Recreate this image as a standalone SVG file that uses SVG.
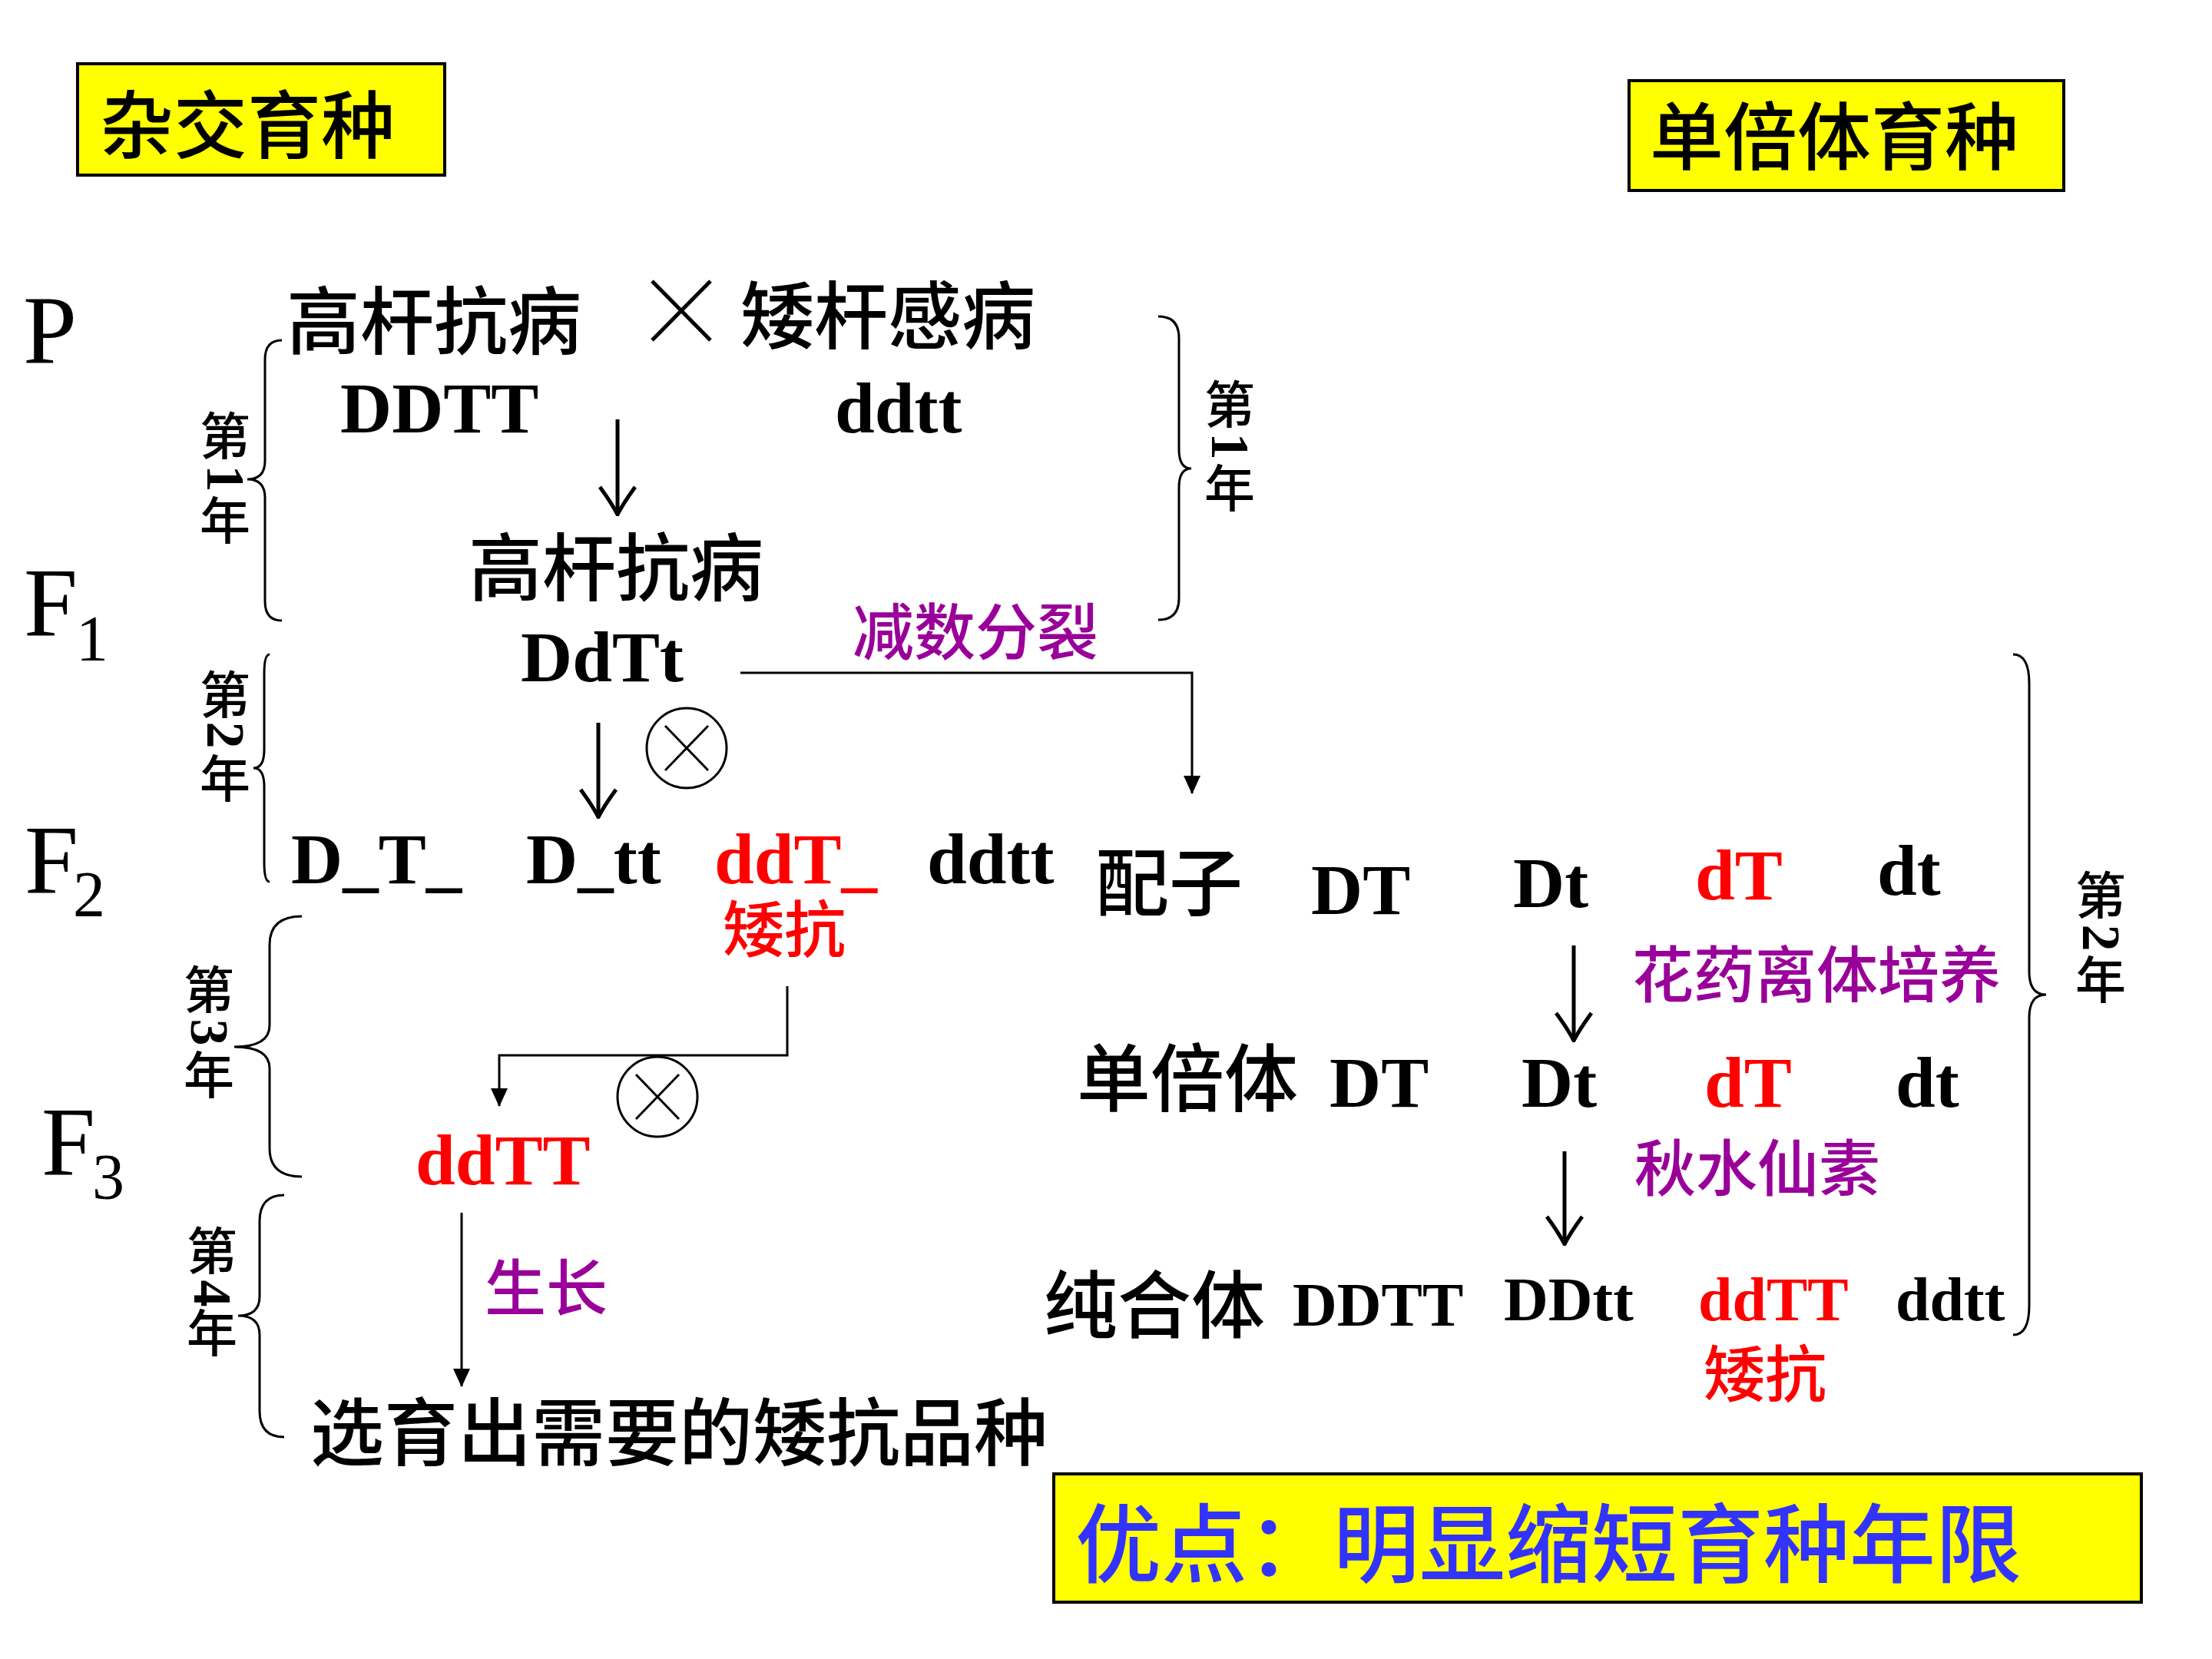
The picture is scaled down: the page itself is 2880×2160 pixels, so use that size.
<svg xmlns="http://www.w3.org/2000/svg" width="2880" height="2160" viewBox="0 0 2880 2160">
<style>
.cn{font-family:"Noto Sans CJK SC","Noto Sans",sans-serif;font-weight:500;fill:#000}
.c96{font-size:96px}
.c80{font-size:80px}
.c66{font-size:66px}
.g{font-family:"Liberation Serif","Times New Roman",serif;font-weight:bold;fill:#000}
.g93{font-size:93px}
.g80{font-size:80px}
.f{font-family:"Liberation Serif","Times New Roman",serif;fill:#000}
.red{fill:#ff0000}
.pur{fill:#990099}
.box{fill:#ffff00;stroke:#000;stroke-width:4}
.brace{fill:none;stroke:#000;stroke-width:3}
.arr{fill:none;stroke:#000;stroke-width:5}
.con{fill:none;stroke:#000;stroke-width:3}
.self{fill:none;stroke:#000;stroke-width:3}
</style>
<defs>
<marker id="open" viewBox="0 0 40 50" refX="38" refY="25" markerWidth="40" markerHeight="50" markerUnits="userSpaceOnUse" orient="auto">
<path d="M2,2 Q24,18 38,25 Q24,32 2,48" fill="none" stroke="#000" stroke-width="5"/>
</marker>
<marker id="tri" viewBox="0 0 24 24" refX="23" refY="12" markerWidth="24" markerHeight="24" markerUnits="userSpaceOnUse" orient="auto">
<path d="M0,1 L24,12 L0,23 Z" fill="#000"/>
</marker>
<g id="otimes">
<circle cx="0" cy="0" r="52" class="self"/>
<line x1="-28" y1="-29" x2="28" y2="29" class="self"/>
<line x1="28" y1="-29" x2="-28" y2="29" class="self"/>
</g>
</defs>

<g id="title-hybrid">
<rect x="101" y="83" width="478" height="145" class="box"/>
<text x="130" y="198" class="cn c96">杂交育种</text>
</g>
<g id="title-haploid">
<rect x="2121" y="105" width="566" height="143" class="box"/>
<text x="2148" y="213" class="cn c96">单倍体育种</text>
</g>
<g id="advantage">
<rect x="1372" y="1919" width="1416" height="167" class="box"/>
<text x="1400" y="2052" class="cn" style="font-size:112px;fill:#3333ff">优点：明显缩短育种年限</text>
</g>

<g id="gen-labels">
<text x="30" y="473" class="f" font-size="126">P</text>
<text x="31" y="827" class="f" font-size="126">F</text><text x="99" y="860" class="f" font-size="84">1</text>
<text x="32" y="1162" class="f" font-size="126">F</text><text x="95" y="1193" class="f" font-size="84">2</text>
<text x="54" y="1529" class="f" font-size="126">F</text><text x="120" y="1561" class="f" font-size="84">3</text>
</g>

<g id="parents">
<text x="373" y="453" class="cn c96">高杆抗病</text>
<g id="cross-sign">
<line x1="849" y1="366" x2="925" y2="443" stroke="#000" stroke-width="5"/>
<line x1="925" y1="366" x2="849" y2="443" stroke="#000" stroke-width="5"/>
</g>
<text x="964" y="446" class="cn c96">矮杆感病</text>
<text x="443" y="563" class="g g93">DDTT</text>
<text x="1087" y="563" class="g g93">ddtt</text>
</g>

<g id="f1">
<text x="610" y="774" class="cn c96">高杆抗病</text>
<text x="678" y="887" class="g g93">DdTt</text>
</g>

<g id="meiosis-label"><text x="1110" y="852" class="cn c80 pur">减数分裂</text></g>

<g id="self1"><use href="#otimes" x="894" y="974"/></g>

<g id="f2">
<text x="379" y="1150" class="g g93">D_T_</text>
<text x="685" y="1150" class="g g93">D_tt</text>
<text x="930" y="1150" class="g g93 red">ddT_</text>
<text x="1207" y="1150" class="g g93">ddtt</text>
<text x="941" y="1239" class="cn c80 red">矮抗</text>
</g>

<g id="self2"><use href="#otimes" x="856" y="1428"/></g>

<g id="f3">
<text x="541" y="1542" class="g g93 red">ddTT</text>
</g>
<g id="grow-label"><text x="631" y="1706" class="cn c80 pur">生长</text></g>
<g id="result"><text x="404" y="1900" class="cn c96">选育出需要的矮抗品种</text></g>

<g id="gametes">
<text x="1426" y="1184" class="cn c96">配子</text>
<text x="1707" y="1190" class="g g93">DT</text>
<text x="1970" y="1181" class="g g93">Dt</text>
<text x="2207" y="1171" class="g g93 red">dT</text>
<text x="2444" y="1165" class="g g93">dt</text>
</g>
<g id="anther-label"><text x="2125" y="1298" class="cn c80 pur">花药离体培养</text></g>
<g id="haploids">
<text x="1402" y="1439" class="cn c96">单倍体</text>
<text x="1731" y="1441" class="g g93">DT</text>
<text x="1981" y="1441" class="g g93">Dt</text>
<text x="2219" y="1441" class="g g93 red">dT</text>
<text x="2468" y="1441" class="g g93">dt</text>
</g>
<g id="colchicine-label"><text x="2128" y="1550" class="cn c80 pur">秋水仙素</text></g>
<g id="homozygotes">
<text x="1359" y="1734" class="cn c96">纯合体</text>
<text x="1683" y="1726" class="g g80">DDTT</text>
<text x="1958" y="1719" class="g g80">DDtt</text>
<text x="2211" y="1719" class="g g80 red">ddTT</text>
<text x="2468" y="1719" class="g g80">ddtt</text>
<text x="2218" y="1818" class="cn c80 red">矮抗</text>
</g>

<g id="year-labels">
<text x="293" y="592" class="cn c66" text-anchor="middle">第</text>
<text class="g" font-size="70" text-anchor="middle" dominant-baseline="central" transform="translate(293,623) rotate(90)">1</text>
<text x="293" y="702" class="cn c66" text-anchor="middle">年</text>

<text x="293" y="929" class="cn c66" text-anchor="middle">第</text>
<text class="g" font-size="70" text-anchor="middle" dominant-baseline="central" transform="translate(293,957) rotate(90)">2</text>
<text x="293" y="1038" class="cn c66" text-anchor="middle">年</text>

<text x="272" y="1313" class="cn c66" text-anchor="middle">第</text>
<text class="g" font-size="70" text-anchor="middle" dominant-baseline="central" transform="translate(272,1344) rotate(90)">3</text>
<text x="272" y="1424" class="cn c66" text-anchor="middle">年</text>

<text x="276" y="1653" class="cn c66" text-anchor="middle">第</text>
<text class="g" font-size="70" text-anchor="middle" dominant-baseline="central" transform="translate(276,1684) rotate(90)">4</text>
<text x="276" y="1760" class="cn c66" text-anchor="middle">年</text>

<text x="1601" y="551" class="cn c66" text-anchor="middle">第</text>
<text class="g" font-size="70" text-anchor="middle" dominant-baseline="central" transform="translate(1601,581) rotate(90)">1</text>
<text x="1601" y="660" class="cn c66" text-anchor="middle">年</text>

<text x="2735" y="1190" class="cn c66" text-anchor="middle">第</text>
<text class="g" font-size="70" text-anchor="middle" dominant-baseline="central" transform="translate(2735,1221) rotate(90)">2</text>
<text x="2735" y="1300" class="cn c66" text-anchor="middle">年</text>
</g>

<g id="braces">
<path class="brace" d="M367,443 Q345,443 345,468 L345,600 Q345,624 322,624 Q345,624 345,648 L345,783 Q345,808 367,808"/>
<path class="brace" d="M351,852 Q344,852 344,877 L344,976 Q344,1000 330,1000 Q344,1000 344,1024 L344,1123 Q344,1148 351,1148"/>
<path class="brace" d="M393,1193 Q351,1193 351,1230 L351,1335 Q351,1363 305,1363 Q351,1363 351,1391 L351,1495 Q351,1532 393,1532"/>
<path class="brace" d="M370,1556 Q338,1556 338,1590 L338,1688 Q338,1713 310,1713 Q338,1713 338,1738 L338,1837 Q338,1871 370,1871"/>
<path class="brace" d="M1508,412 Q1535,412 1535,440 L1535,585 Q1535,610 1551,610 Q1535,610 1535,635 L1535,779 Q1535,807 1508,807"/>
<path class="brace" d="M2621,852 Q2642,852 2642,890 L2642,1265 Q2642,1295 2664,1295 Q2642,1295 2642,1325 L2642,1700 Q2642,1738 2621,1738"/>
</g>

<g id="connectors">
<line x1="804" y1="546" x2="804" y2="670" class="arr" marker-end="url(#open)"/>
<line x1="779" y1="941" x2="779" y2="1064" class="arr" marker-end="url(#open)"/>
<line x1="2049" y1="1231" x2="2049" y2="1355" class="arr" marker-end="url(#open)"/>
<line x1="2037" y1="1499" x2="2037" y2="1620" class="arr" marker-end="url(#open)"/>
<polyline points="964,876 1552,876 1552,1033" class="con" marker-end="url(#tri)"/>
<polyline points="1025,1284 1025,1374 650,1374 650,1440" class="con" marker-end="url(#tri)"/>
<line x1="601" y1="1579" x2="601" y2="1805" class="con" marker-end="url(#tri)"/>
</g>
</svg>
